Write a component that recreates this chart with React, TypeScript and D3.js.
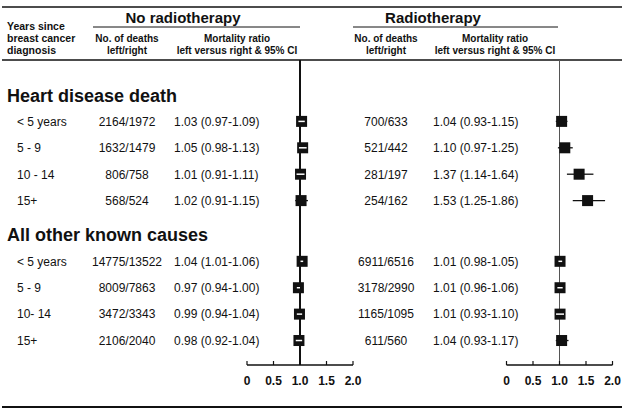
import React from "react";
import * as d3 from "d3";

const heartPeriods = ["< 5 years", "5 - 9", "10 - 14", "15+"];
const otherPeriods = ["< 5 years", "5 - 9", "10- 14", "15+"];

const heartNoRTDeaths = ["2164/1972", "1632/1479", "806/758", "568/524"];
const heartNoRTRatio = [1.03, 1.05, 1.01, 1.02];
const heartNoRTLow = [0.97, 0.98, 0.91, 0.91];
const heartNoRTHigh = [1.09, 1.13, 1.11, 1.15];

const heartRTDeaths = ["700/633", "521/442", "281/197", "254/162"];
const heartRTRatio = [1.04, 1.1, 1.37, 1.53];
const heartRTLow = [0.93, 0.97, 1.14, 1.25];
const heartRTHigh = [1.15, 1.25, 1.64, 1.86];

const otherNoRTDeaths = ["14775/13522", "8009/7863", "3472/3343", "2106/2040"];
const otherNoRTRatio = [1.04, 0.97, 0.99, 0.98];
const otherNoRTLow = [1.01, 0.94, 0.94, 0.92];
const otherNoRTHigh = [1.06, 1.0, 1.04, 1.04];

const otherRTDeaths = ["6911/6516", "3178/2990", "1165/1095", "611/560"];
const otherRTRatio = [1.01, 1.01, 1.01, 1.04];
const otherRTLow = [0.98, 0.96, 0.93, 0.93];
const otherRTHigh = [1.05, 1.06, 1.1, 1.17];

const axisTicks = [0, 0.5, 1.0, 1.5, 2.0];
const axisTickLabels = ["0", "0.5", "1.0", "1.5", "2.0"];

const sections = [
  {
    title: "Heart disease death",
    titleSlot: 0,
    periods: heartPeriods,
    noRT: { deaths: heartNoRTDeaths, ratio: heartNoRTRatio, lo: heartNoRTLow, hi: heartNoRTHigh },
    rt: { deaths: heartRTDeaths, ratio: heartRTRatio, lo: heartRTLow, hi: heartRTHigh },
  },
  {
    title: "All other known causes",
    titleSlot: 5.3,
    periods: otherPeriods,
    noRT: { deaths: otherNoRTDeaths, ratio: otherNoRTRatio, lo: otherNoRTLow, hi: otherNoRTHigh },
    rt: { deaths: otherRTDeaths, ratio: otherRTRatio, lo: otherRTLow, hi: otherRTHigh },
  },
];

const W = 629;
const H = 414;
const FONT = "'Liberation Sans', Arial, Helvetica, sans-serif";

const ySlot = d3.scaleLinear().domain([0, 1]).range([95, 121.4]);
const xLeft = d3.scaleLinear().domain([0, 2]).range([247, 353]);
const xRight = d3.scaleLinear().domain([0, 2]).range([506.5, 612.5]);

const BOX = 11;
const fmt = (v: number) => v.toFixed(2);

function Panel({ x, refColor, refWidth }: { x: d3.ScaleLinear<number, number>; refColor: string; refWidth: number }) {
  const axisY = 365;
  return (
    <g>
      <line x1={x(1)} x2={x(1)} y1={60} y2={axisY} stroke={refColor} strokeWidth={refWidth} />
      <line x1={x(0)} x2={x(2)} y1={axisY} y2={axisY} stroke="#111" strokeWidth={1.3} />
      {axisTicks.map((t, i) => (
        <g key={i}>
          <line x1={x(t)} x2={x(t)} y1={axisY} y2={axisY - 4} stroke="#111" strokeWidth={1.2} />
          <text x={x(t)} y={axisY + 19.5} textAnchor="middle" fontFamily={FONT} fontWeight="bold" fontSize={12} fill="#111">
            {axisTickLabels[i]}
          </text>
        </g>
      ))}
    </g>
  );
}

function Marker({ x, cy, r, lo, hi }: { x: d3.ScaleLinear<number, number>; cy: number; r: number; lo: number; hi: number }) {
  const cx = x(r);
  const bl = cx - BOX / 2;
  const br = cx + BOX / 2;
  const inside = x(lo) >= bl - 0.3 && x(hi) <= br + 0.3;
  return (
    <g>
      {!inside && <line x1={x(lo)} x2={x(hi)} y1={cy} y2={cy} stroke="#111" strokeWidth={1.3} />}
      <rect x={bl} y={cy - BOX / 2} width={BOX} height={BOX} fill="#111" />
      {inside && (
        <line
          x1={Math.max(x(lo), bl + 1.5)}
          x2={Math.min(x(hi), br - 1.5)}
          y1={cy}
          y2={cy}
          stroke="#fff"
          strokeWidth={1.5}
        />
      )}
    </g>
  );
}

export default function App() {
  return (
    <svg width={W} height={H} style={{ position: "absolute", left: 0, top: 0, background: "#fff" }}>
      <rect width={W} height={H} fill="#fff" />
      <line x1={2} x2={622} y1={7} y2={7} stroke="#111" strokeWidth={1.5} />
      <line x1={2} x2={622} y1={60} y2={60} stroke="#111" strokeWidth={1.5} />
      <line x1={2} x2={622} y1={407} y2={407} stroke="#111" strokeWidth={1.8} />

      <g fontFamily={FONT} fill="#111">
        <text x={7} y={30} fontSize={10.5} fontWeight="bold">Years since</text>
        <text x={7} y={42} fontSize={10.5} fontWeight="bold">breast cancer</text>
        <text x={7} y={54} fontSize={10.5} fontWeight="bold">diagnosis</text>

        <text x={183} y={22.5} fontSize={15} fontWeight="bold" textAnchor="middle">No radiotherapy</text>
        <line x1={93} x2={300} y1={27} y2={27} stroke="#111" strokeWidth={1} />
        <text x={127} y={42} fontSize={10} fontWeight="bold" textAnchor="middle">No. of deaths</text>
        <text x={127} y={54} fontSize={10} fontWeight="bold" textAnchor="middle">left/right</text>
        <text x={237} y={42} fontSize={10} fontWeight="bold" textAnchor="middle">Mortality ratio</text>
        <text x={237} y={54} fontSize={10} fontWeight="bold" textAnchor="middle">left versus right &amp; 95% CI</text>

        <text x={433} y={22.5} fontSize={15} fontWeight="bold" textAnchor="middle">Radiotherapy</text>
        <line x1={353} x2={558} y1={27} y2={27} stroke="#111" strokeWidth={1} />
        <text x={386} y={42} fontSize={10} fontWeight="bold" textAnchor="middle">No. of deaths</text>
        <text x={386} y={54} fontSize={10} fontWeight="bold" textAnchor="middle">left/right</text>
        <text x={495} y={42} fontSize={10} fontWeight="bold" textAnchor="middle">Mortality ratio</text>
        <text x={495} y={54} fontSize={10} fontWeight="bold" textAnchor="middle">left versus right &amp; 95% CI</text>
      </g>

      <Panel x={xLeft} refColor="#111" refWidth={2} />
      <Panel x={xRight} refColor="#555" refWidth={1} />

      {sections.map((s, si) => (
        <g key={si} fontFamily={FONT} fill="#111">
          <text x={7} y={ySlot(s.titleSlot) + 6.5} fontSize={18} fontWeight="bold">{s.title}</text>
          {s.periods.map((p, i) => {
            const cy = ySlot(s.titleSlot + 1 + i);
            const ty = cy + 4.3;
            return (
              <g key={i}>
                <text x={17} y={ty} fontSize={12}>{p}</text>
                <text x={127} y={ty} fontSize={12} textAnchor="middle">{s.noRT.deaths[i]}</text>
                <text x={174} y={ty} fontSize={12}>
                  {`${fmt(s.noRT.ratio[i])} (${fmt(s.noRT.lo[i])}-${fmt(s.noRT.hi[i])})`}
                </text>
                <text x={386} y={ty} fontSize={12} textAnchor="middle">{s.rt.deaths[i]}</text>
                <text x={433} y={ty} fontSize={12}>
                  {`${fmt(s.rt.ratio[i])} (${fmt(s.rt.lo[i])}-${fmt(s.rt.hi[i])})`}
                </text>
                <Marker x={xLeft} cy={cy} r={s.noRT.ratio[i]} lo={s.noRT.lo[i]} hi={s.noRT.hi[i]} />
                <Marker x={xRight} cy={cy} r={s.rt.ratio[i]} lo={s.rt.lo[i]} hi={s.rt.hi[i]} />
              </g>
            );
          })}
        </g>
      ))}
    </svg>
  );
}
